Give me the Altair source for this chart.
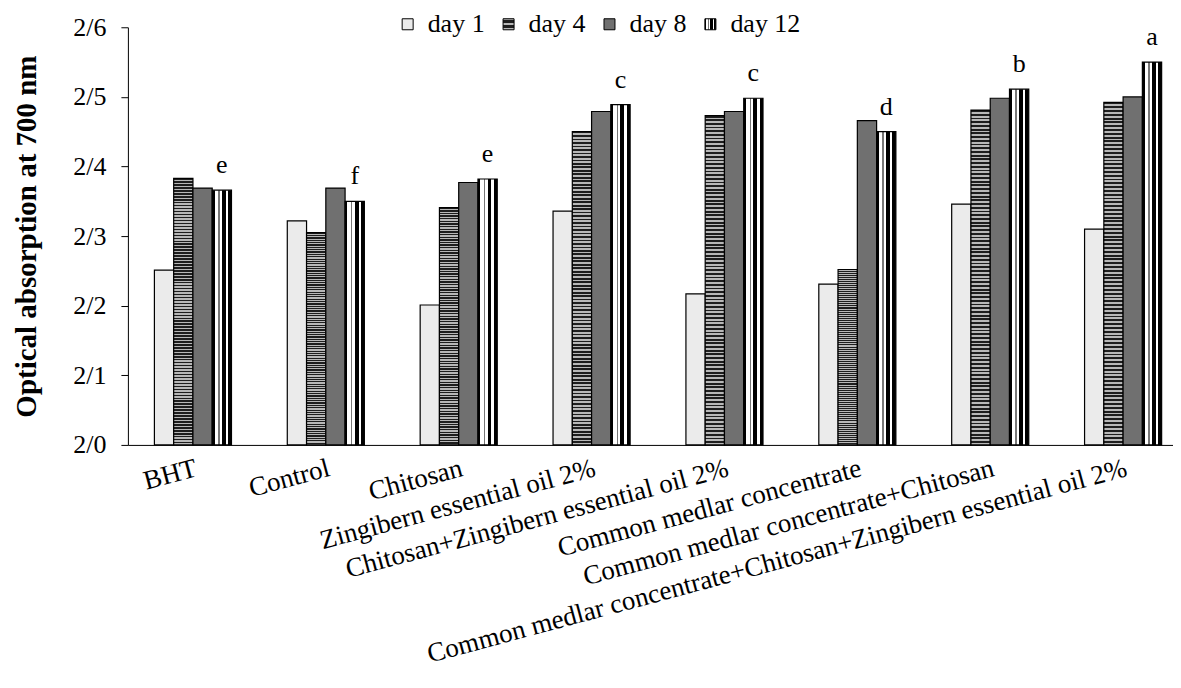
import altair as alt
import pandas as pd

categories = [
    "BHT",
    "Control",
    "Chitosan",
    "Zingibern essential oil 2%",
    "Chitosan+Zingibern essential oil 2%",
    "Common medlar concentrate",
    "Common medlar concentrate+Chitosan",
    "Common medlar concentrate+Chitosan+Zingibern essential oil 2%",
]
days = ["day 1", "day 4", "day 8", "day 12"]
day1 = [2.251, 2.322, 2.201, 2.336, 2.217, 2.231, 2.346, 2.310]
day4 = [2.383, 2.305, 2.341, 2.450, 2.473, 2.252, 2.481, 2.492]
day8 = [2.369, 2.369, 2.377, 2.479, 2.479, 2.466, 2.498, 2.500]
day12 = [2.366, 2.350, 2.382, 2.489, 2.498, 2.450, 2.511, 2.550]
letters = ["e", "f", "e", "c", "c", "d", "b", "a"]
y_ticks = [2.0, 2.1, 2.2, 2.3, 2.4, 2.5, 2.6]
y_base = 2.0

FONT = "Liberation Serif"

rows = []
for series, name in zip([day1, day4, day8, day12], days):
    for c, v in zip(categories, series):
        rows.append({"category": c, "day": name, "value": v, "base": y_base})
df = pd.DataFrame(rows)
lab = pd.DataFrame({"category": categories, "day": "day 12", "value": day12, "letter": letters})


def gradient_expr(segments, vertical=False):
    stops = []
    pos = 0.0
    for color, w in segments:
        stops.append("{offset:%.4f,color:'%s'}" % (pos, color))
        pos = min(1.0, pos + w)
        stops.append("{offset:%.4f,color:'%s'}" % (pos, color))
    coords = "x1:0,y1:0,x2:0,y2:1" if vertical else "x1:0,y1:0,x2:1,y2:0"
    return "{gradient:'linear'," + coords + ",stops:[" + ",".join(stops) + "]}"


n = 90
hstripes = []
for i in range(n):
    hstripes.append(("#1e1e1e", 0.5 / n))
    hstripes.append(("#b8b8b8", 0.5 / n))
vstripes = [("#000000", 0.12), ("#ffffff", 0.18), ("#777777", 0.08), ("#ffffff", 0.12),
            ("#000000", 0.20), ("#ffffff", 0.12), ("#000000", 0.18)]

fill_range = [
    "#ebebeb",
    alt.ExprRef(gradient_expr(hstripes, vertical=True)),
    "#707070",
    alt.ExprRef(gradient_expr(vstripes)),
]

x = alt.X(
    "category:N",
    sort=categories,
    scale=alt.Scale(paddingInner=0.42, paddingOuter=0.1425, align=0.7),
    axis=alt.Axis(
        title=None, labelAngle=345, labelAlign="right", labelBaseline="top",
        ticks=False, labelPadding=10, labelFont=FONT, labelFontSize=27,
        labelColor="black", domainColor="black", domainWidth=1,
        labelLimit=2000, labelOverlap=False, labelBound=False,
    ),
)
xo = alt.XOffset("day:N", sort=days, scale=alt.Scale(domain=days, paddingInner=0, paddingOuter=0))
y = alt.Y(
    "value:Q",
    scale=alt.Scale(domain=[2.0, 2.6], zero=False, nice=False),
    axis=alt.Axis(
        title="Optical absorption at 700 nm", values=y_ticks,
        labelExpr="replace(format(datum.value, '.1f'), '.', '/')",
        grid=False, tickSize=7, tickColor="black", labelPadding=15,
        labelFont=FONT, labelFontSize=26, labelColor="black",
        domainColor="black", titleFont=FONT, titleFontSize=29,
        titleFontWeight="bold", titleColor="black", titlePadding=31,
    ),
)

bars = alt.Chart(df).mark_bar(stroke="black", strokeWidth=1.2).encode(
    x=x,
    xOffset=xo,
    y=y,
    y2="base:Q",
    fill=alt.Fill(
        "day:N", sort=days,
        scale=alt.Scale(domain=days, range=fill_range),
        legend=alt.Legend(
            title=None, orient="none", legendX=267, legendY=-16,
            direction="horizontal", columns=4, symbolType="square",
            symbolSize=121, symbolStrokeColor="black", symbolStrokeWidth=1,
            labelFont=FONT, labelFontSize=26, labelColor="black",
            labelOffset=7, columnPadding=10,
        ),
    ),
)

text = alt.Chart(lab).mark_text(
    dy=-17, baseline="alphabetic", font=FONT, fontSize=26, color="black"
).encode(x=x, xOffset=xo, y=y, text="letter:N")

chart = (
    alt.layer(bars, text)
    .properties(width=1046, height=418, padding={"left": 4, "top": 3, "right": 0, "bottom": 5},
                background="white")
    .configure(font=FONT)
    .configure_view(stroke=None)
    .configure_legend(labelFont=FONT)
    .configure_axis(labelFont=FONT, titleFont=FONT)
)

chart.save("out.html", embed_options={"renderer": "svg", "actions": False})
